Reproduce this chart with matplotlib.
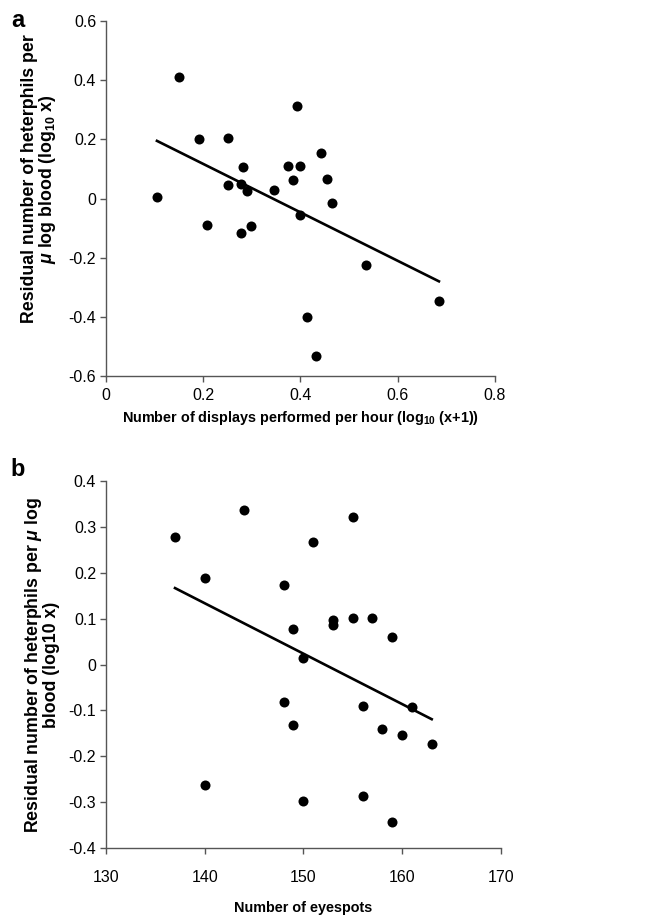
import matplotlib
matplotlib.use('Agg')
import matplotlib.pyplot as plt
from matplotlib import font_manager

# panel a: displays per hour vs residual heterophils
disp_x = [0.105, 0.150, 0.192, 0.251, 0.251, 0.283, 0.278, 0.290, 0.345, 0.375, 0.399, 0.385,
          0.394, 0.442, 0.454, 0.466, 0.208, 0.278, 0.298, 0.399, 0.536, 0.685, 0.414, 0.432]
disp_y = [0.005, 0.410, 0.200, 0.205, 0.045, 0.107, 0.050, 0.025, 0.029, 0.111, 0.111, 0.061,
          0.314, 0.154, 0.066, -0.014, -0.090, -0.115, -0.094, -0.055, -0.226, -0.347, -0.401, -0.534]
fit_a_x = [0.105, 0.685]
fit_a_y = [0.195, -0.280]
xticks_a = [0, 0.2, 0.4, 0.6, 0.8]
xticklabels_a = ['0', '0.2', '0.4', '0.6', '0.8']
yticks_a = [-0.6, -0.4, -0.2, 0, 0.2, 0.4, 0.6]
yticklabels_a = ['-0.6', '-0.4', '-0.2', '0', '0.2', '0.4', '0.6']

# panel b: eyespots vs residual heterophils
eye_x = [137, 140, 144, 148, 149, 150, 151, 153, 153, 155, 155, 157, 159,
         148, 149, 156, 161, 158, 160, 163, 140, 150, 156, 159]
eye_y = [0.278, 0.188, 0.338, 0.174, 0.077, 0.014, 0.267, 0.098, 0.087, 0.321, 0.101, 0.101, 0.061,
         -0.081, -0.132, -0.090, -0.093, -0.140, -0.153, -0.173, -0.263, -0.297, -0.287, -0.343]
fit_b_x = [137, 163]
fit_b_y = [0.167, -0.119]
xticks_b = [130, 140, 150, 160, 170]
xticklabels_b = ['130', '140', '150', '160', '170']
yticks_b = [-0.4, -0.3, -0.2, -0.1, 0, 0.1, 0.2, 0.3, 0.4]
yticklabels_b = ['-0.4', '-0.3', '-0.2', '-0.1', '0', '0.1', '0.2', '0.3', '0.4']

names = {f.name for f in font_manager.fontManager.ttflist}
narrow = 'Liberation Sans Narrow' if 'Liberation Sans Narrow' in names else 'Liberation Sans'
wide = 'Liberation Sans'

plt.rcParams['font.family'] = narrow
plt.rcParams['mathtext.fontset'] = 'custom'
plt.rcParams['mathtext.rm'] = wide + ':bold'
plt.rcParams['mathtext.it'] = wide + ':bold:italic'
plt.rcParams['mathtext.bf'] = wide + ':bold'

spine_col = '#555555'


def style_axes(ax, xticks, xlabels, yticks, ylabels, xpad):
    for s in ['top', 'right']:
        ax.spines[s].set_visible(False)
    for s in ['left', 'bottom']:
        ax.spines[s].set_color(spine_col)
        ax.spines[s].set_linewidth(1.0)
    ax.set_xticks(xticks)
    ax.set_xticklabels(xlabels)
    ax.set_yticks(yticks)
    ax.set_yticklabels(ylabels)
    ax.tick_params(axis='both', direction='out', length=4, width=1.0, color=spine_col,
                   labelsize=11.5, labelcolor='black')
    ax.tick_params(axis='y', pad=3)
    ax.tick_params(axis='x', pad=xpad)


fig = plt.figure(figsize=(6.66, 9.17), dpi=100)

# panel a
ax1 = fig.add_axes([0.159, 0.590, 0.584, 0.387])
ax1.scatter(disp_x, disp_y, s=52, color='black', zorder=3, linewidths=0)
ax1.plot(fit_a_x, fit_a_y, color='black', lw=1.9)
ax1.set_xlim(0, 0.8)
ax1.set_ylim(-0.6, 0.6)
style_axes(ax1, xticks_a, xticklabels_a, yticks_a, yticklabels_a, 5)
ax1.set_xlabel(r'Number of displays performed per hour (log$_{\mathregular{10}}$ (x+1))',
               fontsize=10.4, fontweight='bold', labelpad=4)
ax1.set_ylabel('Residual number of heterphils per\n' + r'$\mu$ log blood (log$_{\mathregular{10}}$ x)',
               fontsize=12.8, fontweight='bold', family=wide, linespacing=0.95)
ax1.yaxis.set_label_coords(-0.123, 0.555)

# panel b
ax2 = fig.add_axes([0.159, 0.0752, 0.593, 0.400])
ax2.scatter(eye_x, eye_y, s=52, color='black', zorder=3, linewidths=0)
ax2.plot(fit_b_x, fit_b_y, color='black', lw=1.9)
ax2.set_xlim(130, 170)
ax2.set_ylim(-0.4, 0.4)
style_axes(ax2, xticks_b, xticklabels_b, yticks_b, yticklabels_b, 12)
ax2.set_xlabel('Number of eyespots', fontsize=10.4, fontweight='bold', labelpad=11)
ax2.set_ylabel('Residual number of heterphils per ' + r'$\mu$' + ' log\nblood (log10 x)',
               fontsize=12.8, fontweight='bold', family=wide, linespacing=0.95)
ax2.yaxis.set_label_coords(-0.116, 0.5)

fig.text(0.027, 0.978, 'a', fontsize=17, fontweight='bold', ha='center', va='center')
fig.text(0.027, 0.488, 'b', fontsize=17, fontweight='bold', ha='center', va='center')

fig.savefig('out.png', dpi=100)
